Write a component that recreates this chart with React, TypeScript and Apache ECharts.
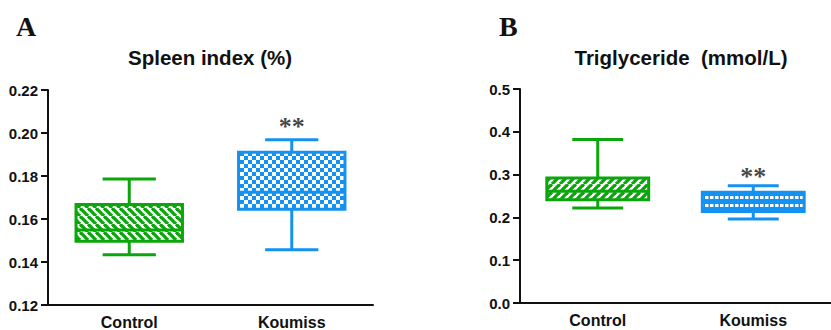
import React, { useEffect, useRef } from "react";
import * as echarts from "echarts";

const categories = ["Control", "Koumiss"];

// Panel A: Spleen index (%)
const spleenMin = [0.1434, 0.1457];
const spleenQ1 = [0.1496, 0.1645];
const spleenMedian = [0.1549, 0.1724];
const spleenQ3 = [0.1667, 0.191];
const spleenMax = [0.1786, 0.1969];
const spleenStarY = [0.2029];
const spleenTicks = { min: 0.12, max: 0.22, interval: 0.02 };

// Panel B: Triglyceride (mmol/L)
const tgMin = [0.222, 0.196];
const tgQ1 = [0.241, 0.214];
const tgMedian = [0.261, 0.237];
const tgQ3 = [0.292, 0.259];
const tgMax = [0.382, 0.274];
const tgStarY = [0.295];
const tgTicks = { min: 0, max: 0.5, interval: 0.1 };

const GREEN = "#0ba60b";
const BLUE = "#1592f0";
const SANS = "Arial, 'Liberation Sans', sans-serif";
const SERIF = "'Times New Roman', 'Liberation Serif', serif";

function makeCanvas(w: number, h: number, draw: (ctx: CanvasRenderingContext2D) => void) {
  const c = document.createElement("canvas");
  c.width = w;
  c.height = h;
  const ctx = c.getContext("2d")!;
  ctx.fillStyle = "#ffffff";
  ctx.fillRect(0, 0, w, h);
  draw(ctx);
  return c;
}

function stripes(color: string, dir: 1 | -1) {
  const s = 8;
  const canvas = makeCanvas(s, s, (ctx) => {
    ctx.strokeStyle = color;
    ctx.lineWidth = 3.3;
    for (const x0 of [-s, 0, s]) {
      ctx.beginPath();
      if (dir === 1) {
        ctx.moveTo(x0, 0);
        ctx.lineTo(x0 + s, s);
      } else {
        ctx.moveTo(x0, s);
        ctx.lineTo(x0 + s, 0);
      }
      ctx.stroke();
    }
  });
  return { image: canvas, repeat: "repeat", imageWidth: s, imageHeight: s };
}

function checker(color: string) {
  const s = 8;
  const canvas = makeCanvas(s, s, (ctx) => {
    ctx.fillStyle = color;
    ctx.fillRect(0, 0, 4, 4);
    ctx.fillRect(4, 4, 4, 4);
  });
  return { image: canvas, repeat: "repeat", imageWidth: s, imageHeight: s };
}

function dashRows(color: string) {
  const w = 5;
  const h = 8;
  const canvas = makeCanvas(w, h, (ctx) => {
    ctx.fillStyle = color;
    ctx.fillRect(0, 0, w, h);
    ctx.fillStyle = "#ffffff";
    ctx.fillRect(0, 4, 3.5, 3);
  });
  return { image: canvas, repeat: "repeat", imageWidth: w, imageHeight: h };
}

function boxData(mn: number[], q1: number[], md: number[], q3: number[], mx: number[]) {
  return categories.map((_, i) => [i, mn[i], q1[i], md[i], q3[i], mx[i]]);
}

function makeRenderItem(fills: any[]) {
  const colors = [GREEN, BLUE];
  return (params: any, api: any) => {
    const c = api.value(0);
    const lo = api.coord([c, api.value(1)]);
    const q1 = api.coord([c, api.value(2)]);
    const md = api.coord([c, api.value(3)]);
    const q3 = api.coord([c, api.value(4)]);
    const hi = api.coord([c, api.value(5)]);
    const band = api.size([1, 0])[0];
    const w = band * 0.655;
    const cap = w / 2;
    const x = lo[0];
    const color = colors[c];
    const ls = { stroke: color, lineWidth: 3 };
    return {
      type: "group",
      children: [
        { type: "line", shape: { x1: x, y1: hi[1], x2: x, y2: q3[1] }, style: ls },
        { type: "line", shape: { x1: x - cap / 2, y1: hi[1], x2: x + cap / 2, y2: hi[1] }, style: ls },
        { type: "line", shape: { x1: x, y1: lo[1], x2: x, y2: q1[1] }, style: ls },
        { type: "line", shape: { x1: x - cap / 2, y1: lo[1], x2: x + cap / 2, y2: lo[1] }, style: ls },
        {
          type: "rect",
          shape: { x: x - w / 2, y: q3[1], width: w, height: q1[1] - q3[1] },
          style: { fill: fills[c], stroke: color, lineWidth: 3 },
        },
        { type: "line", shape: { x1: x - w / 2, y1: md[1], x2: x + w / 2, y2: md[1] }, style: ls },
      ],
    };
  };
}

export default function App() {
  const ref = useRef<HTMLDivElement>(null);
  useEffect(() => {
    if (!ref.current) return;
    const chart = echarts.init(ref.current, null, { renderer: "svg" });

    const fillsA = [stripes(GREEN, 1), checker(BLUE)];
    const fillsB = [stripes(GREEN, -1), dashRows(BLUE)];

    const xAxisCommon = {
      type: "category",
      data: categories,
      axisLine: { lineStyle: { color: "#111", width: 2 } },
      axisTick: { alignWithLabel: true, length: 6, lineStyle: { color: "#111", width: 2 } },
      axisLabel: { color: "#111", fontFamily: SANS, fontWeight: "bold", fontSize: 16, margin: 9 },
      splitLine: { show: false },
    };
    const yAxisCommon = {
      type: "value",
      axisLine: { show: true, lineStyle: { color: "#111", width: 2 } },
      axisTick: { show: true, length: 7, lineStyle: { color: "#111", width: 2 } },
      axisLabel: { color: "#111", fontFamily: SANS, fontWeight: "bold", fontSize: 15, margin: 10 },
      splitLine: { show: false },
    };

    const starLabel = {
      show: true,
      formatter: "**",
      position: "inside",
      fontFamily: SERIF,
      fontWeight: "bold",
      fontSize: 26,
      color: "#111",
    };

    chart.setOption({
      animation: false,
      backgroundColor: "#ffffff",
      grid: [
        { left: 48, right: 458, top: 90, bottom: 25 },
        { left: 520, right: -9, top: 89, bottom: 27 },
      ],
      xAxis: [
        { ...xAxisCommon, gridIndex: 0 },
        { ...xAxisCommon, gridIndex: 1 },
      ],
      yAxis: [
        {
          ...yAxisCommon,
          gridIndex: 0,
          ...spleenTicks,
          axisLabel: { ...yAxisCommon.axisLabel, formatter: (v: number) => v.toFixed(2) },
        },
        {
          ...yAxisCommon,
          gridIndex: 1,
          ...tgTicks,
          axisLabel: { ...yAxisCommon.axisLabel, formatter: (v: number) => v.toFixed(1) },
        },
      ],
      graphic: [
        { type: "text", left: 16, top: 12, style: { text: "A", fontFamily: SERIF, fontWeight: "bold", fontSize: 28, fill: "#111" } },
        { type: "text", left: 499, top: 12, style: { text: "B", fontFamily: SERIF, fontWeight: "bold", fontSize: 28, fill: "#111" } },
        {
          type: "text",
          x: 210,
          y: 57,
          style: { text: "Spleen index (%)", fontFamily: SANS, fontWeight: "bold", fontSize: 20.5, fill: "#111", align: "center", verticalAlign: "middle" },
        },
        {
          type: "text",
          x: 681,
          y: 57,
          style: { text: "Triglyceride\u00a0\u00a0(mmol/L)", fontFamily: SANS, fontWeight: "bold", fontSize: 20.5, fill: "#111", align: "center", verticalAlign: "middle" },
        },
      ],
      series: [
        {
          type: "custom",
          xAxisIndex: 0,
          yAxisIndex: 0,
          renderItem: makeRenderItem(fillsA),
          encode: { x: 0, y: [1, 2, 3, 4, 5] },
          data: boxData(spleenMin, spleenQ1, spleenMedian, spleenQ3, spleenMax),
        },
        {
          type: "custom",
          xAxisIndex: 1,
          yAxisIndex: 1,
          renderItem: makeRenderItem(fillsB),
          encode: { x: 0, y: [1, 2, 3, 4, 5] },
          data: boxData(tgMin, tgQ1, tgMedian, tgQ3, tgMax),
        },
        {
          type: "scatter",
          xAxisIndex: 0,
          yAxisIndex: 0,
          symbolSize: 0,
          label: starLabel,
          data: spleenStarY.map((v) => [1, v]),
        },
        {
          type: "scatter",
          xAxisIndex: 1,
          yAxisIndex: 1,
          symbolSize: 0,
          label: starLabel,
          data: tgStarY.map((v) => [1, v]),
        },
      ],
    });
    return () => chart.dispose();
  }, []);

  return (
    <div
      ref={ref}
      style={{ position: "fixed", left: 0, top: 0, width: 831, height: 330, background: "#fff" }}
    />
  );
}
